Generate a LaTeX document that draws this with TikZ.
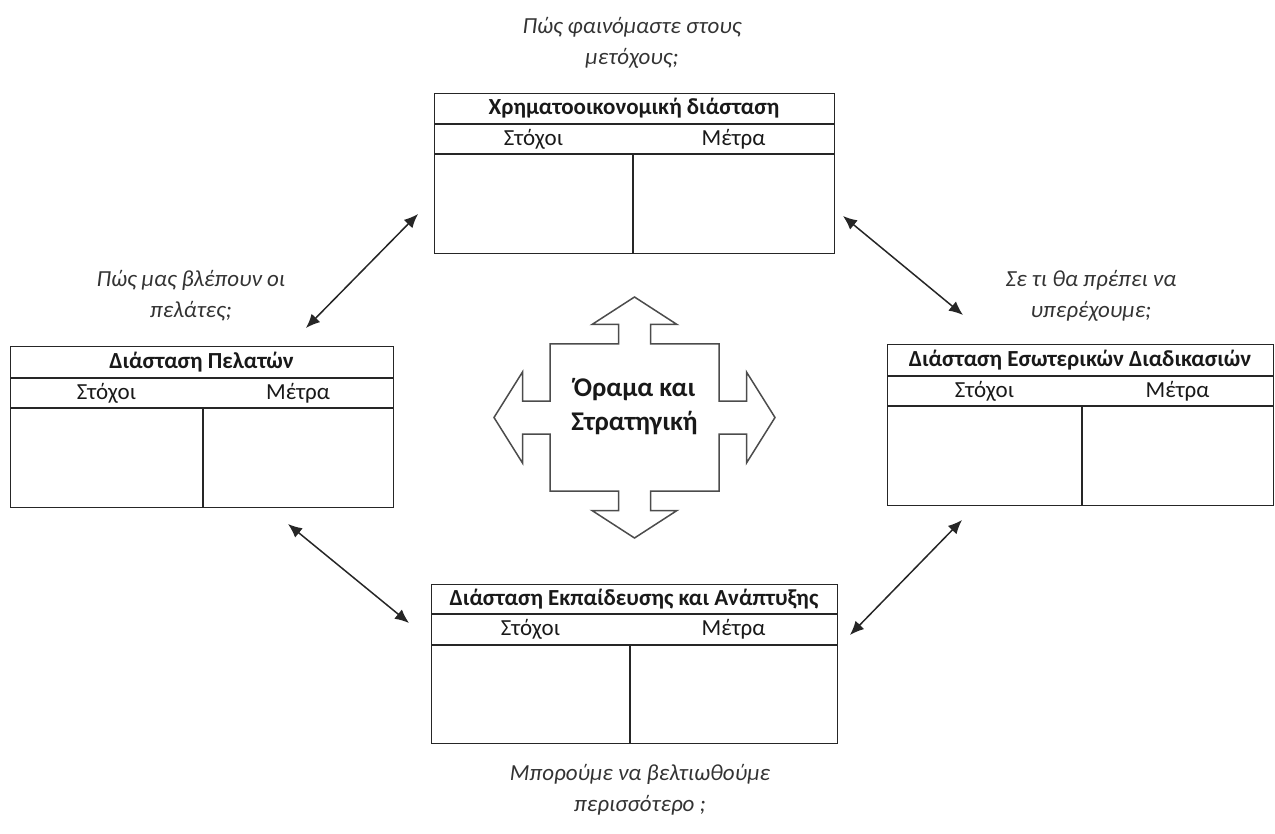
\documentclass[tikz,border=0pt]{standalone}
\usepackage{fontspec}
\setmainfont{Carlito}
\usetikzlibrary{arrows.meta,calc}

\tikzset{
  frame/.style={draw=black!85, line width=1.3pt, rectangle, anchor=north west, inner sep=0pt},
  rule/.style={draw=black!85, line width=1.3pt},
  head/.style={font=\fontsize{23}{27}\selectfont\bfseries, text=black!90, inner sep=0pt},
  sub/.style={font=\fontsize{23}{27}\selectfont, text=black!90, inner sep=0pt},
  question/.style={font=\fontsize{23}{31}\selectfont\itshape, text=black!80, align=center},
  link/.style={draw=black!85, line width=1.5pt, {Latex[length=14pt,width=12pt]}-{Latex[length=14pt,width=12pt]}},
  crossline/.style={draw=black!70, line width=1.5pt, line join=miter},
  visiontext/.style={font=\fontsize{27}{34}\selectfont\bfseries, text=black!90, align=center}
}

\begin{document}
\begin{tikzpicture}[x=1pt, y=-1pt]
  \useasboundingbox (0,0) rectangle (1275,834);

  % financial perspective
  \node[frame, minimum width=400pt, minimum height=160pt] (fin) at (434,93) {};
  \draw[rule] (fin.north west |- 0,124) -- (fin.north east |- 0,124);
  \draw[rule] (fin.north west |- 0,154) -- (fin.north east |- 0,154);
  \draw[rule] (633,154) -- (fin.south -| 633,0);
  \node[head] (fin-title) at (634,108.5) {Χρηματοοικονομική διάσταση};
  \node[sub] (fin-goals) at (533.5,139) {Στόχοι};
  \node[sub] (fin-measures) at (733.5,139) {Μέτρα};

  % customer perspective
  \node[frame, minimum width=383pt, minimum height=161pt] (cust) at (10,346) {};
  \draw[rule] (cust.north west |- 0,378) -- (cust.north east |- 0,378);
  \draw[rule] (cust.north west |- 0,408) -- (cust.north east |- 0,408);
  \draw[rule] (203,408) -- (cust.south -| 203,0);
  \node[head] (cust-title) at (201.5,362) {Διάσταση Πελατών};
  \node[sub] (cust-goals) at (106.5,393) {Στόχοι};
  \node[sub] (cust-measures) at (298,393) {Μέτρα};

  % internal process perspective
  \node[frame, minimum width=386pt, minimum height=161pt] (proc) at (887,344) {};
  \draw[rule] (proc.north west |- 0,376) -- (proc.north east |- 0,376);
  \draw[rule] (proc.north west |- 0,406) -- (proc.north east |- 0,406);
  \draw[rule] (1082,406) -- (proc.south -| 1082,0);
  \node[head] (proc-title) at (1080,360) {Διάσταση Εσωτερικών Διαδικασιών};
  \node[sub] (proc-goals) at (984.5,391) {Στόχοι};
  \node[sub] (proc-measures) at (1177.5,391) {Μέτρα};

  % learning and growth perspective
  \node[frame, minimum width=406pt, minimum height=159pt] (learn) at (431,584) {};
  \draw[rule] (learn.north west |- 0,614) -- (learn.north east |- 0,614);
  \draw[rule] (learn.north west |- 0,645) -- (learn.north east |- 0,645);
  \draw[rule] (630,645) -- (learn.south -| 630,0);
  \node[head] (learn-title) at (634,599) {Διάσταση Εκπαίδευσης και Ανάπτυξης};
  \node[sub] (learn-goals) at (530.5,629.5) {Στόχοι};
  \node[sub] (learn-measures) at (733.5,629.5) {Μέτρα};

  % guiding questions
  \node[question] (q-fin) at (632,42.5) {Πώς φαινόμαστε στους\\μετόχους;};
  \node[question] (q-cust) at (191,296) {Πώς μας βλέπουν οι\\πελάτες;};
  \node[question] (q-proc) at (1091,296) {Σε τι θα πρέπει να\\υπερέχουμε;};
  \node[question] (q-learn) at (640,789.5) {Μπορούμε να βελτιωθούμε\\περισσότερο ;};

  % vision and strategy: four-way arrow
  \begin{scope}[shift={(634.5,417.5)}]
    \draw[crossline]
      (0,-120.5) -- (42.5,-93) -- (16,-93) -- (16,-73.5) -- (84.5,-73.5)
      -- (84.5,-16.5) -- (112,-16.5) -- (112,-45.5) -- (140.5,0)
      -- (112,45.5) -- (112,16.5) -- (84.5,16.5) -- (84.5,73.5)
      -- (16,73.5) -- (16,93) -- (42.5,93) -- (0,120.5)
      -- (-42.5,93) -- (-16,93) -- (-16,73.5) -- (-84.5,73.5)
      -- (-84.5,16.5) -- (-112,16.5) -- (-112,45.5) -- (-140.5,0)
      -- (-112,-45.5) -- (-112,-16.5) -- (-84.5,-16.5) -- (-84.5,-73.5)
      -- (-16,-73.5) -- (-16,-93) -- (-42.5,-93) -- cycle;
    \node[visiontext] (vision) at (0,-11) {Όραμα και\\Στρατηγική};
  \end{scope}

  % links between perspectives
  \coordinate (l1a) at (306,328);
  \coordinate (l1b) at (418,214);
  \coordinate (l2a) at (843,216);
  \coordinate (l2b) at (963,315);
  \coordinate (l3a) at (288,524);
  \coordinate (l3b) at (409,623);
  \coordinate (l4a) at (962,520);
  \coordinate (l4b) at (850,635);
  \draw[link] (l1a) -- (l1b);
  \draw[link] (l2a) -- (l2b);
  \draw[link] (l3a) -- (l3b);
  \draw[link] (l4a) -- (l4b);
\end{tikzpicture}
\end{document}
